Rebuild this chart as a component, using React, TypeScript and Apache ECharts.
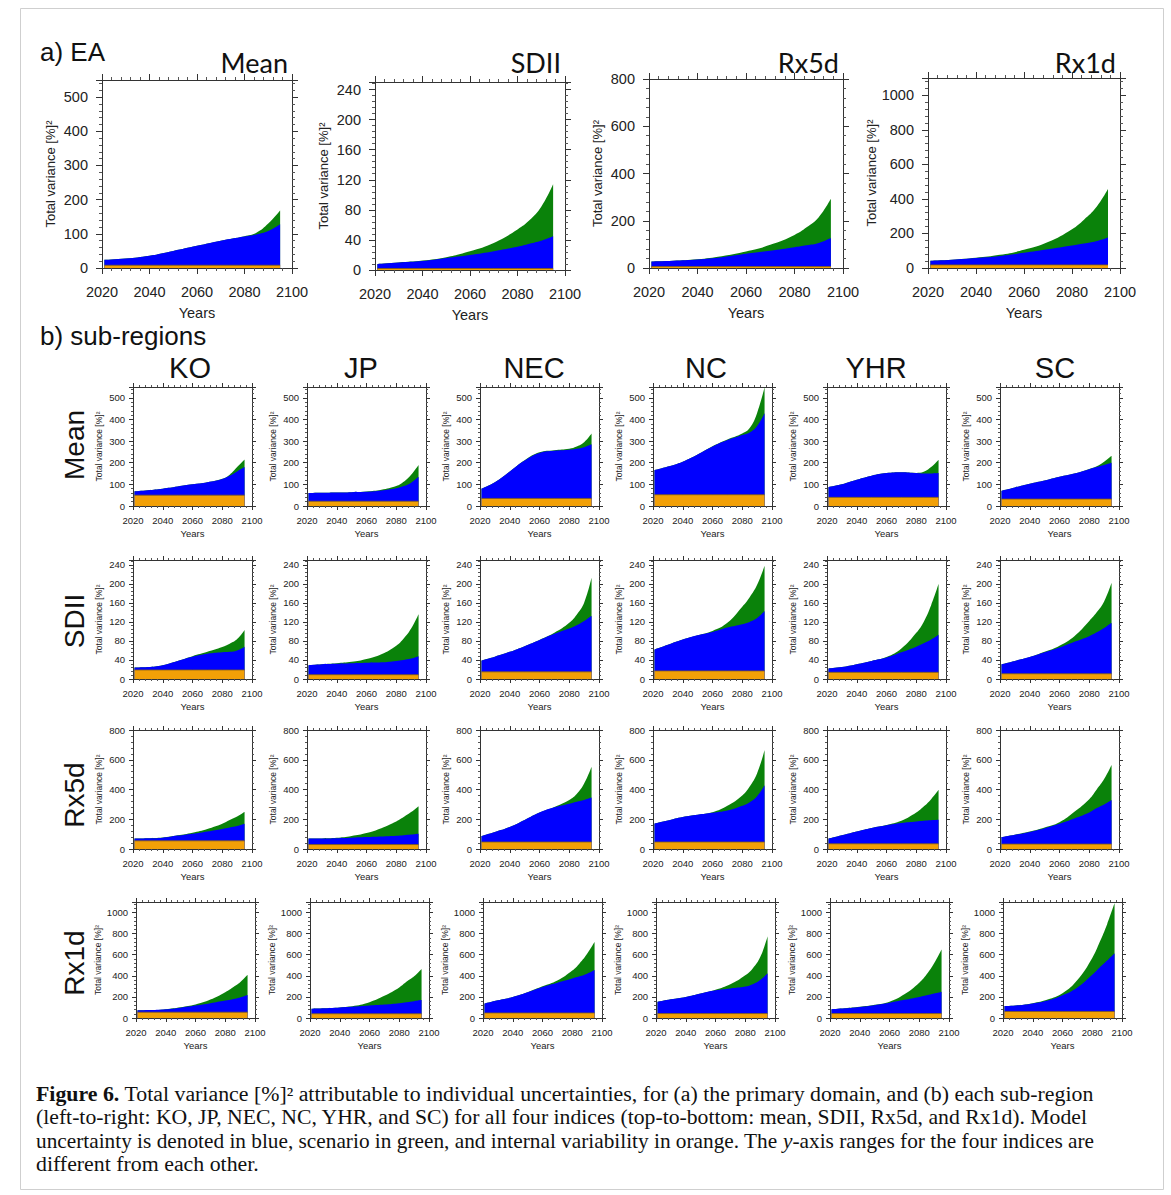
import React, { useEffect, useRef } from 'react';
import * as echarts from 'echarts';

// ---------------- DATA ----------------
const YEARS = [2021, 2030, 2040, 2050, 2060, 2070, 2080, 2085, 2090, 2095];
const REGIONS = ['EA', 'KO', 'JP', 'NEC', 'NC', 'YHR', 'SC'];
const INDICES = ['Mean', 'SDII', 'Rx5d', 'Rx1d'];
const Y_MAX = [550, 250, 800, 1100];
const Y_INTERVAL = [100, 40, 200, 200];

// internal variability (orange), per region [EA, KO, JP, NEC, NC, YHR, SC]
const INTERNAL_Mean = [8, 50, 22, 35, 52, 40, 32];
const INTERNAL_SDII = [2, 19, 9, 15, 17, 14, 11];
const INTERNAL_Rx5d = [6, 55, 30, 47, 47, 35, 33];
const INTERNAL_Rx1d = [18, 55, 40, 48, 42, 42, 62];

// top of model uncertainty (blue) and total (top of green)
const EA_Mean_blue = [24, 28, 36, 50, 65, 80, 92, 98, 108, 128];
const EA_Mean_total = [24, 28, 36, 50, 65, 80, 93, 103, 130, 168];
const EA_SDII_blue = [8, 10, 12, 16, 20, 25, 31, 35, 39, 45];
const EA_SDII_total = [8, 10, 12.5, 17, 25, 36, 54, 66, 84, 114];
const EA_Rx5d_blue = [28, 31, 36, 46, 60, 73, 88, 96, 106, 127];
const EA_Rx5d_total = [28, 31, 37, 50, 70, 98, 140, 172, 215, 293];
const EA_Rx1d_blue = [42, 48, 58, 70, 88, 108, 130, 142, 155, 177];
const EA_Rx1d_total = [42, 48, 59, 76, 105, 150, 225, 280, 350, 458];

const KO_Mean_blue = [68, 73, 80, 90, 100, 110, 125, 140, 160, 180];
const KO_Mean_total = [68, 73, 80, 90, 100, 110, 126, 145, 180, 215];
const JP_Mean_blue = [60, 61, 62, 64, 66, 72, 82, 92, 108, 135];
const JP_Mean_total = [60, 61, 62, 64, 67, 75, 92, 112, 145, 190];
const NEC_Mean_blue = [80, 110, 160, 210, 245, 255, 260, 265, 272, 285];
const NEC_Mean_total = [80, 110, 160, 212, 248, 258, 265, 275, 295, 335];
const NC_Mean_blue = [165, 182, 205, 238, 275, 305, 328, 340, 370, 430];
const NC_Mean_total = [165, 182, 205, 238, 276, 307, 335, 360, 430, 550];
const YHR_Mean_blue = [87, 100, 121, 140, 152, 156, 152, 150, 150, 152];
const YHR_Mean_total = [87, 100, 121, 140, 152, 156, 153, 158, 180, 214];
const SC_Mean_blue = [71, 86, 103, 118, 135, 150, 170, 180, 190, 200];
const SC_Mean_total = [71, 86, 103, 118, 135, 150, 171, 184, 205, 232];

const KO_SDII_blue = [24, 25, 29, 38, 47, 53, 56, 57, 60, 68];
const KO_SDII_total = [24, 25, 29, 38, 48, 57, 67, 74, 84, 103];
const JP_SDII_blue = [29, 31, 32, 33, 34, 35, 38, 40, 43, 48];
const JP_SDII_total = [29, 31, 33, 36, 42, 52, 70, 85, 106, 136];
const NEC_SDII_blue = [39, 47, 57, 69, 82, 95, 106, 113, 122, 133];
const NEC_SDII_total = [39, 47, 57, 69, 82, 97, 118, 135, 160, 213];
const NC_SDII_blue = [62, 72, 83, 92, 99, 108, 115, 120, 128, 143];
const NC_SDII_total = [62, 72, 83, 92, 101, 118, 152, 172, 198, 238];
const YHR_SDII_blue = [22, 25, 31, 38, 45, 56, 68, 75, 83, 93];
const YHR_SDII_total = [22, 25, 31, 38, 46, 64, 97, 120, 155, 200];
const SC_SDII_blue = [31, 38, 46, 56, 66, 78, 90, 98, 107, 118];
const SC_SDII_total = [31, 38, 46, 57, 70, 90, 122, 140, 163, 202];

const KO_Rx5d_blue = [70, 72, 76, 90, 103, 118, 135, 145, 155, 170];
const KO_Rx5d_total = [70, 72, 77, 92, 110, 135, 170, 195, 218, 250];
const JP_Rx5d_blue = [70, 71, 73, 76, 80, 84, 89, 93, 97, 103];
const JP_Rx5d_total = [70, 71, 75, 88, 108, 140, 185, 215, 248, 288];
const NEC_Rx5d_blue = [88, 115, 148, 195, 245, 280, 305, 318, 330, 346];
const NEC_Rx5d_total = [88, 115, 148, 195, 245, 283, 330, 370, 440, 553];
const NC_Rx5d_blue = [171, 192, 215, 230, 243, 258, 290, 315, 355, 428];
const NC_Rx5d_total = [171, 192, 215, 230, 247, 290, 360, 420, 510, 665];
const YHR_Rx5d_blue = [70, 92, 118, 142, 160, 175, 185, 190, 193, 196];
const YHR_Rx5d_total = [70, 92, 118, 142, 162, 190, 245, 285, 335, 398];
const SC_Rx5d_blue = [80, 96, 115, 140, 170, 205, 245, 275, 300, 330];
const SC_Rx5d_total = [80, 96, 117, 145, 180, 250, 335, 400, 470, 565];

const KO_Rx1d_blue = [73, 75, 83, 98, 118, 140, 165, 178, 195, 218];
const KO_Rx1d_total = [73, 75, 84, 102, 128, 175, 245, 290, 340, 410];
const JP_Rx1d_blue = [88, 92, 99, 108, 118, 127, 140, 150, 160, 170];
const JP_Rx1d_total = [88, 92, 100, 115, 150, 210, 290, 345, 395, 465];
const NEC_Rx1d_blue = [137, 168, 200, 245, 295, 335, 375, 395, 420, 455];
const NEC_Rx1d_total = [137, 168, 200, 245, 300, 355, 450, 520, 610, 720];
const NC_Rx1d_blue = [153, 178, 200, 232, 262, 280, 298, 320, 360, 425];
const NC_Rx1d_total = [153, 178, 200, 232, 268, 320, 405, 470, 575, 775];
const YHR_Rx1d_blue = [83, 92, 105, 122, 145, 172, 200, 215, 232, 250];
const YHR_Rx1d_total = [83, 92, 106, 125, 155, 225, 335, 415, 520, 650];
const SC_Rx1d_blue = [112, 120, 138, 165, 215, 290, 410, 480, 545, 615];
const SC_Rx1d_total = [112, 120, 140, 175, 235, 360, 570, 720, 890, 1090];

const INTERNAL = [INTERNAL_Mean, INTERNAL_SDII, INTERNAL_Rx5d, INTERNAL_Rx1d];
const BLUE = [
  [EA_Mean_blue, KO_Mean_blue, JP_Mean_blue, NEC_Mean_blue, NC_Mean_blue, YHR_Mean_blue, SC_Mean_blue],
  [EA_SDII_blue, KO_SDII_blue, JP_SDII_blue, NEC_SDII_blue, NC_SDII_blue, YHR_SDII_blue, SC_SDII_blue],
  [EA_Rx5d_blue, KO_Rx5d_blue, JP_Rx5d_blue, NEC_Rx5d_blue, NC_Rx5d_blue, YHR_Rx5d_blue, SC_Rx5d_blue],
  [EA_Rx1d_blue, KO_Rx1d_blue, JP_Rx1d_blue, NEC_Rx1d_blue, NC_Rx1d_blue, YHR_Rx1d_blue, SC_Rx1d_blue],
];
const TOTAL = [
  [EA_Mean_total, KO_Mean_total, JP_Mean_total, NEC_Mean_total, NC_Mean_total, YHR_Mean_total, SC_Mean_total],
  [EA_SDII_total, KO_SDII_total, JP_SDII_total, NEC_SDII_total, NC_SDII_total, YHR_SDII_total, SC_SDII_total],
  [EA_Rx5d_total, KO_Rx5d_total, JP_Rx5d_total, NEC_Rx5d_total, NC_Rx5d_total, YHR_Rx5d_total, SC_Rx5d_total],
  [EA_Rx1d_total, KO_Rx1d_total, JP_Rx1d_total, NEC_Rx1d_total, NC_Rx1d_total, YHR_Rx1d_total, SC_Rx1d_total],
];

const CAPTION = [
  [{ t: 'Figure 6.', s: 'b' }, { t: ' Total variance [%]² attributable to individual uncertainties, for (a) the primary domain, and (b) each sub-region' }],
  [{ t: '(left-to-right: KO, JP, NEC, NC, YHR, and SC) for all four indices (top-to-bottom: mean, SDII, Rx5d, and Rx1d). Model' }],
  [{ t: 'uncertainty is denoted in blue, scenario in green, and internal variability in orange. The ' }, { t: 'y', s: 'i' }, { t: '-axis ranges for the four indices are' }],
  [{ t: 'different from each other.' }],
];

// ---------------- LAYOUT / STYLE ----------------
const FONT = '"Liberation Sans", Arial, Helvetica, sans-serif';
const TITLE_FONT = 'Lato, "Open Sans", sans-serif';
const CAP_FONT = '"Liberation Serif", "Times New Roman", serif';
const BLUE_C = '#0000ff';
const GREEN_C = '#0a820a';
const ORANGE_C = '#f2a007';

const TOP_LEFT = [102, 375, 649, 928];
const TOP_TOP = [80, 82, 79, 78];
const TOP_W = [190, 190, 194, 192];
const TOP_H = [188, 188, 189, 190];
const COL_LEFT = [133, 307, 480, 653, 827, 1000];
const COL_TITLE_X = [190, 361, 534, 706, 876, 1055];
const ROW_TOP = [387, 560, 730, 902];
const ROW_H = [119, 119, 119, 116];
const ROW_DX = [0, 0, 0, 3];
const ROW_LABEL_Y = [445, 621, 795, 963];
const SMALL_W = 119;
const CAP_Y = [1094, 1117.5, 1141, 1164.5];
const CAP_RIGHT = [1094, 1089, 1094, 0];

function buildOption() {
  const grid: any[] = [];
  const xAxis: any[] = [];
  const yAxis: any[] = [];
  const series: any[] = [];
  let gi = 0;

  const addPanel = (g: any, ix: number, ri: number, small: boolean) => {
    const max = Y_MAX[ix];
    const interval = Y_INTERVAL[ix];
    const fs = small ? 9.5 : 14.5;
    const line = { color: '#333', width: 1 };
    const tickLen = small ? 4 : 6;
    const minorLen = small ? 2 : 3;
    grid.push({ left: g.x, top: g.y, width: g.w, height: g.h, show: false });
    const xCommon = {
      type: 'value', gridIndex: gi, min: 2020, max: 2100, interval: 20, z: 10,
      axisLine: { show: true, onZero: false, lineStyle: line },
      axisTick: { show: true, length: tickLen, lineStyle: line },
      minorTick: { show: true, splitNumber: 5, length: minorLen, lineStyle: { color: '#555', width: 1 } },
      splitLine: { show: false }, minorSplitLine: { show: false },
    };
    xAxis.push({
      ...xCommon, position: 'bottom',
      axisLabel: { fontSize: fs, color: '#222', margin: small ? 9 : 16, fontFamily: FONT, formatter: (v: number) => String(v) },
      name: 'Years', nameLocation: 'middle', nameGap: small ? 22.5 : 37.5,
      nameTextStyle: { fontSize: fs, color: '#222', fontFamily: FONT },
    });
    xAxis.push({ ...xCommon, position: 'top', axisLabel: { show: false } });
    const yCommon = {
      type: 'value', gridIndex: gi, min: 0, max, interval, z: 10,
      axisLine: { show: true, onZero: false, lineStyle: line },
      axisTick: { show: true, length: tickLen, lineStyle: line },
      minorTick: { show: true, splitNumber: 5, length: minorLen, lineStyle: { color: '#555', width: 1 } },
      splitLine: { show: false }, minorSplitLine: { show: false },
    };
    yAxis.push({
      ...yCommon, position: 'left',
      axisLabel: { fontSize: fs, color: '#222', margin: small ? 8 : 14, fontFamily: FONT, showMaxLabel: max % interval === 0, formatter: (v: number) => String(v) },
      name: 'Total variance [%]²', nameLocation: 'middle', nameRotate: 90, nameGap: small ? 30 : 45,
      nameTextStyle: { fontSize: small ? 8.5 : 13, color: '#222', fontFamily: FONT },
    });
    yAxis.push({ ...yCommon, position: 'right', axisLabel: { show: false } });

    const total = TOTAL[ix][ri];
    const blue = BLUE[ix][ri];
    const internal = INTERNAL[ix][ri];
    const base = { type: 'line', xAxisIndex: 2 * gi, yAxisIndex: 2 * gi, showSymbol: false, symbol: 'none', silent: true, smooth: 0.45, lineStyle: { width: 0 } };
    series.push({ ...base, name: 'scenario', data: YEARS.map((y, k) => [y, total[k]]), areaStyle: { color: GREEN_C, opacity: 1 }, z: 2 });
    series.push({ ...base, name: 'model', data: YEARS.map((y, k) => [y, blue[k]]), areaStyle: { color: BLUE_C, opacity: 1 }, z: 3 });
    series.push({ ...base, name: 'internal', smooth: false, data: YEARS.map((y) => [y, internal]), areaStyle: { color: ORANGE_C, opacity: 1 }, lineStyle: { width: 0.8, color: '#7a5a20' }, z: 4 });
    gi++;
  };

  for (let ix = 0; ix < 4; ix++) {
    addPanel({ x: TOP_LEFT[ix], y: TOP_TOP[ix], w: TOP_W[ix], h: TOP_H[ix] }, ix, 0, false);
  }
  for (let ix = 0; ix < 4; ix++) {
    for (let c = 0; c < 6; c++) {
      addPanel({ x: COL_LEFT[c] + ROW_DX[ix], y: ROW_TOP[ix], w: SMALL_W, h: ROW_H[ix] }, ix, c + 1, true);
    }
  }

  // graphics
  const graphic: any[] = [];
  graphic.push({ type: 'rect', silent: true, z: -10, shape: { x: 20.5, y: 8.5, width: 1143, height: 1181 }, style: { fill: 'none', stroke: '#cfcfcf', lineWidth: 1 } });
  graphic.push({ type: 'text', x: 40, y: 52, style: { text: 'a) EA', fontSize: 26, fontFamily: FONT, fill: '#111', align: 'left', verticalAlign: 'middle' } });
  graphic.push({ type: 'text', x: 40, y: 336, style: { text: 'b) sub-regions', fontSize: 26, fontFamily: FONT, fill: '#111', align: 'left', verticalAlign: 'middle' } });
  for (let ix = 0; ix < 4; ix++) {
    graphic.push({ type: 'text', x: TOP_LEFT[ix] + TOP_W[ix] - 4, y: 62, style: { text: INDICES[ix], fontSize: 27, fontFamily: TITLE_FONT, fill: '#111', align: 'right', verticalAlign: 'middle' } });
  }
  for (let c = 0; c < 6; c++) {
    graphic.push({ type: 'text', x: COL_TITLE_X[c], y: 368, style: { text: REGIONS[c + 1], fontSize: 29, fontFamily: FONT, fill: '#111', align: 'center', verticalAlign: 'middle' } });
  }
  for (let ix = 0; ix < 4; ix++) {
    graphic.push({ type: 'text', x: 74, y: ROW_LABEL_Y[ix], rotation: Math.PI / 2, style: { text: INDICES[ix], fontSize: 28, fontFamily: FONT, fill: '#111', align: 'center', verticalAlign: 'middle' } });
  }

  // caption
  const CAP_SIZE = 20;
  const canvas = document.createElement('canvas');
  const ctx = canvas.getContext('2d') as CanvasRenderingContext2D;
  const measure = (segs: any[]) => segs.reduce((acc, s) => {
    ctx.font = `${s.s === 'i' ? 'italic ' : ''}${s.s === 'b' ? 'bold ' : ''}${CAP_SIZE}px ${CAP_FONT}`;
    return acc + ctx.measureText(s.t).width;
  }, 0);
  let firstScale = 0.85;
  CAPTION.forEach((segs, li) => {
    const w = measure(segs);
    let sc = firstScale;
    if (CAP_RIGHT[li] > 0 && w > 0) sc = (CAP_RIGHT[li] - 36) / w;
    if (li === 0) firstScale = sc;
    const text = segs.map((s: any) => (s.s ? `{${s.s}|${s.t}}` : s.t)).join('');
    graphic.push({
      type: 'text', x: 36, y: CAP_Y[li], scaleX: sc, scaleY: 1,
      style: {
        text, fontSize: CAP_SIZE, fontFamily: CAP_FONT, fill: '#111', align: 'left', verticalAlign: 'middle',
        rich: {
          b: { fontWeight: 'bold', fontSize: CAP_SIZE, fontFamily: CAP_FONT, fill: '#111' },
          i: { fontStyle: 'italic', fontSize: CAP_SIZE, fontFamily: CAP_FONT, fill: '#111' },
        },
      },
    });
  });

  return { animation: false, backgroundColor: '#ffffff', grid, xAxis, yAxis, series, graphic };
}

export default function App() {
  const ref = useRef<HTMLDivElement>(null);
  useEffect(() => {
    if (!ref.current) return;
    const chart = echarts.init(ref.current, undefined, { renderer: 'svg' });
    chart.setOption(buildOption() as any);
    return () => chart.dispose();
  }, []);
  return <div ref={ref} style={{ position: 'absolute', left: 0, top: 0, width: 1171, height: 1195, background: '#fff' }} />;
}
